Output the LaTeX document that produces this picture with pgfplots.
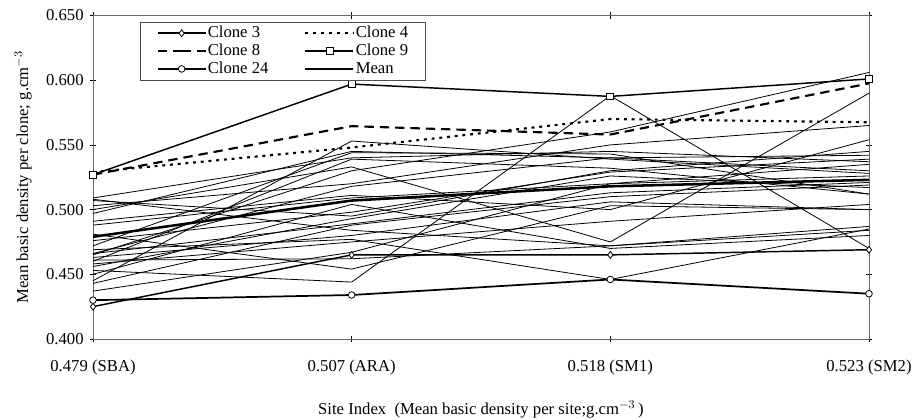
\documentclass[border=0pt]{standalone}
\usepackage{pgfplots}
\pgfplotsset{compat=1.18}
\usepackage{fontspec}
\setmainfont{Liberation Serif}
\begin{document}
\begin{tikzpicture}[x=1pt,y=1pt]
\useasboundingbox (-69.75pt,-60.75pt) rectangle (621.75pt,254.25pt);
\begin{axis}[
  at={(0,0)}, anchor=south west,
  scale only axis, width=582pt, height=242.6pt,
  xmin=0, xmax=3, ymin=0.4, ymax=0.65,
  xtick={0,1,2,3},
  xticklabels={0.479 (SBA),0.507 (ARA),0.518 (SM1),0.523 (SM2)},
  ytick={0.40,0.45,0.50,0.55,0.60,0.65},
  /pgf/number format/assume math mode=true,
  yticklabel style={/pgf/number format/fixed,/pgf/number format/fixed zerofill,/pgf/number format/precision=3},
  tick label style={font=\fontsize{12.5}{14}\selectfont},
  xticklabel style={yshift=-10pt},
  yticklabel style={xshift=-1pt},
  tick align=center, major tick length=5pt,
  tick style={black, thin},
  axis line style={black!60, thin},
  xlabel={Site Index\ \ (Mean basic density per site;g.cm$^{-3}$\,)},
  ylabel={Mean basic density per clone; g.cm$^{-3}$},
  label style={font=\fontsize{12.5}{14}\selectfont},
  xlabel style={yshift=-12pt},
  ylabel style={yshift=4pt},
  clip=false,
  legend columns=2,
  legend style={at={(0.061,0.98)}, anchor=north west, draw=black!70, thin,
    font=\fontsize{12.5}{13}\selectfont, row sep=0pt, inner xsep=12pt, inner ysep=1.5pt,
    nodes={inner sep=0.8pt, text height=9pt, text depth=2.8pt},
    /tikz/every even column/.append style={column sep=26pt}},
  legend cell align=left,
  legend image code/.code={\draw[#1] (0pt,0pt) -- (18pt,0pt) (18pt,0pt) -- (36pt,0pt); \draw[#1,mark repeat=1] plot coordinates {(18pt,0pt)};},
]
% thin lines (other clones)
\pgfplotsset{thinline/.style={black, line width=0.6pt, forget plot, mark=none}}
\addplot[thinline] coordinates {(0,0.509) (1,0.540) (2,0.545) (3,0.537)};
\addplot[thinline] coordinates {(0,0.507) (1,0.495) (2,0.530) (3,0.545)};
\addplot[thinline] coordinates {(0,0.503) (1,0.520) (2,0.550) (3,0.565)};
\addplot[thinline] coordinates {(0,0.500) (1,0.533) (2,0.475) (3,0.590)};
\addplot[thinline] coordinates {(0,0.497) (1,0.545) (2,0.540) (3,0.530)};
\addplot[thinline] coordinates {(0,0.491) (1,0.511) (2,0.500) (3,0.554)};
\addplot[thinline] coordinates {(0,0.488) (1,0.509) (2,0.520) (3,0.526)};
\addplot[thinline] coordinates {(0,0.476) (1,0.498) (2,0.529) (3,0.539)};
\addplot[thinline] coordinates {(0,0.472) (1,0.544) (2,0.543) (3,0.512)};
\addplot[thinline] coordinates {(0,0.469) (1,0.477) (2,0.446) (3,0.485)};
\addplot[thinline] coordinates {(0,0.466) (1,0.489) (2,0.513) (3,0.521)};
\addplot[thinline] coordinates {(0,0.463) (1,0.480) (2,0.506) (3,0.500)};
\addplot[thinline] coordinates {(0,0.461) (1,0.462) (2,0.472) (3,0.484)};
\addplot[thinline] coordinates {(0,0.458) (1,0.475) (2,0.491) (3,0.504)};
\addplot[thinline] coordinates {(0,0.456) (1,0.493) (2,0.526) (3,0.517)};
\addplot[thinline] coordinates {(0,0.450) (1,0.504) (2,0.470) (3,0.480)};
\addplot[thinline] coordinates {(0,0.453) (1,0.444) (2,0.588) (3,0.470)};
\addplot[thinline] coordinates {(0,0.445) (1,0.553) (2,0.539) (3,0.528)};
\addplot[thinline] coordinates {(0,0.437) (1,0.467) (2,0.520) (3,0.535)};
\addplot[thinline] coordinates {(0,0.508) (1,0.484) (2,0.472) (3,0.487)};
\addplot[thinline] coordinates {(0,0.466) (1,0.518) (2,0.540) (3,0.542)};
\addplot[thinline] coordinates {(0,0.481) (1,0.454) (2,0.503) (3,0.500)};
\addplot[thinline] coordinates {(0,0.460) (1,0.539) (2,0.532) (3,0.512)};
\addplot[thinline] coordinates {(0,0.465) (1,0.530) (2,0.560) (3,0.606)};
\addplot[thinline] coordinates {(0,0.443) (1,0.488) (2,0.510) (3,0.519)};
% named series
\addplot[black, line width=1.1pt, mark=diamond*, mark size=2.6pt, mark options={fill=white, line width=0.6pt, solid}]
  coordinates {(0,0.425) (1,0.465) (2,0.465) (3,0.469)};
\addlegendentry{Clone 3}
\addplot[black, line width=1.6pt, dash pattern=on 2.2pt off 3.6pt]
  coordinates {(0,0.529) (1,0.548) (2,0.570) (3,0.5675)};
\addlegendentry{Clone 4}
\addplot[black, line width=1.6pt, dash pattern=on 7pt off 4.5pt]
  coordinates {(0,0.527) (1,0.5645) (2,0.558) (3,0.5975)};
\addlegendentry{Clone 8}
\addplot[black, line width=1.1pt, mark=square*, mark size=2.6pt, mark options={fill=white, line width=0.6pt, solid}]
  coordinates {(0,0.527) (1,0.597) (2,0.5875) (3,0.601)};
\addlegendentry{Clone 9}
\addplot[black, line width=1.3pt, mark=*, mark size=2.5pt, mark options={fill=white, line width=0.6pt, solid}]
  coordinates {(0,0.430) (1,0.434) (2,0.446) (3,0.435)};
\addlegendentry{Clone 24}
\addplot[black, line width=1.9pt]
  coordinates {(0,0.479) (1,0.507) (2,0.518) (3,0.523)};
\addlegendentry{Mean}
\end{axis}
\end{tikzpicture}
\end{document}
